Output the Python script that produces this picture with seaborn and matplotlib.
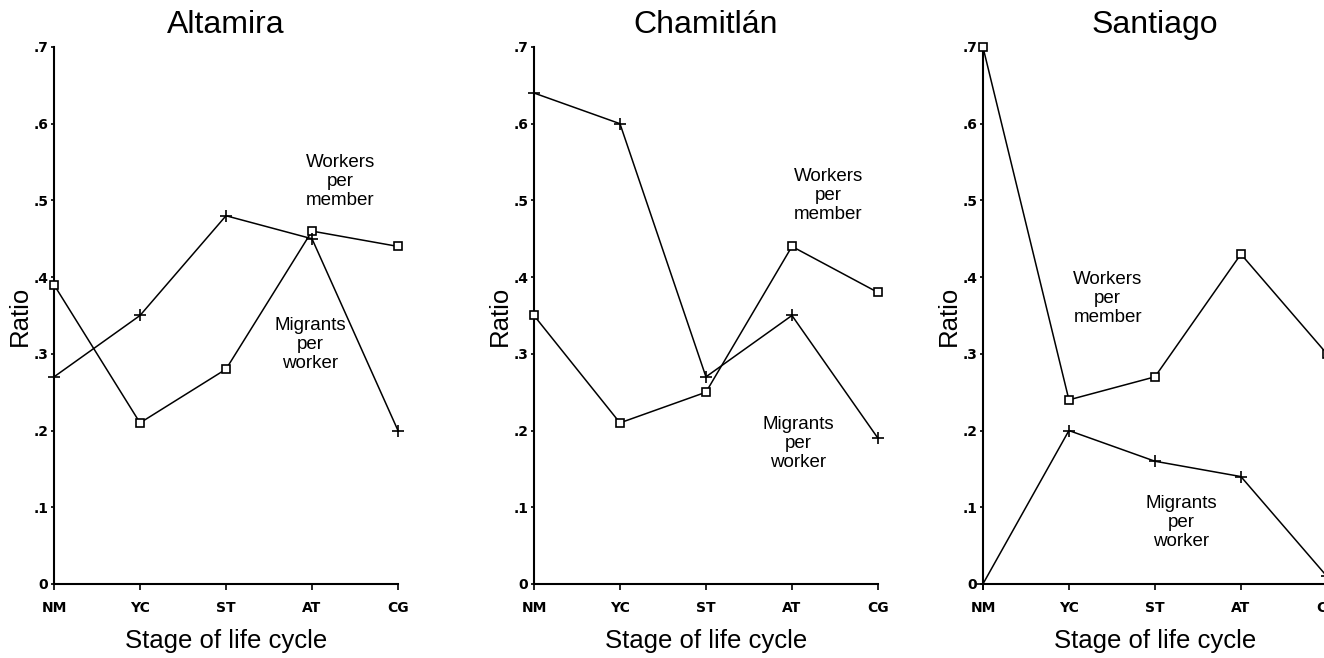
import numpy as np
import pandas as pd
import matplotlib
matplotlib.use("Agg")
import matplotlib.pyplot as plt
import seaborn as sns

# Stages of the household life cycle
stages = ["NM", "YC", "ST", "AT", "CG"]
communities = ["Altamira", "Chamitlán", "Santiago"]

# Workers per household member, by stage
workers_altamira = [0.39, 0.21, 0.28, 0.46, 0.44]
workers_chamitlan = [0.35, 0.21, 0.25, 0.44, 0.38]
workers_santiago = [0.70, 0.24, 0.27, 0.43, 0.30]

# Migrants per worker, by stage
migrants_altamira = [0.27, 0.35, 0.48, 0.45, 0.20]
migrants_chamitlan = [0.64, 0.60, 0.27, 0.35, 0.19]
migrants_santiago = [0.00, 0.20, 0.16, 0.14, 0.01]

y_ticks = [0, 0.1, 0.2, 0.3, 0.4, 0.5, 0.6, 0.7]
y_tick_labels = ["0", ".1", ".2", ".3", ".4", ".5", ".6", ".7"]

frames = []
for name, w, m in zip(communities,
                      [workers_altamira, workers_chamitlan, workers_santiago],
                      [migrants_altamira, migrants_chamitlan, migrants_santiago]):
    for series, vals in (("Workers per member", w), ("Migrants per worker", m)):
        frames.append(pd.DataFrame({"community": name, "series": series,
                                    "stage": np.arange(len(stages)), "ratio": vals}))
df = pd.concat(frames, ignore_index=True)

sns.set_theme(style="white")
plt.rcParams["font.family"] = ["Liberation Sans", "DejaVu Sans"]

fig = plt.figure(figsize=(13.24, 6.58), dpi=100)

# panel placement in figure fractions
lefts = [0.0408, 0.4033, 0.7424]
bottom, width, height = 0.1125, 0.2598, 0.8161

# label placement (x in stage units, y in ratio units)
label_pos = {
    "Altamira": {"Workers per member": (3.33, 0.525), "Migrants per worker": (2.98, 0.312)},
    "Chamitlán": {"Workers per member": (3.42, 0.506), "Migrants per worker": (3.07, 0.183)},
    "Santiago": {"Workers per member": (1.45, 0.372), "Migrants per worker": (2.31, 0.080)},
}

tick_font = dict(family="DejaVu Sans", weight="bold", size=10)

for name, left in zip(communities, lefts):
    ax = fig.add_axes([left, bottom, width, height])
    sub = df[df["community"] == name]
    sns.lineplot(data=sub[sub["series"] == "Workers per member"], x="stage", y="ratio",
                 ax=ax, color="black", linewidth=1.1, marker="s", markersize=5.5,
                 markerfacecolor="white", markeredgecolor="black", markeredgewidth=1.2,
                 clip_on=False, zorder=3)
    sns.lineplot(data=sub[sub["series"] == "Migrants per worker"], x="stage", y="ratio",
                 ax=ax, color="black", linewidth=1.1, marker="+", markersize=8,
                 markeredgecolor="black", markeredgewidth=1.2,
                 clip_on=False, zorder=3)

    ax.set_xlim(0, len(stages) - 1)
    ax.set_ylim(0, 0.7)
    ax.set_xticks(range(len(stages)))
    ax.set_xticklabels(stages, fontdict=tick_font)
    ax.set_yticks(y_ticks)
    ax.set_yticklabels(y_tick_labels, fontdict=tick_font)
    ax.tick_params(axis="x", direction="out", length=4, width=1.2, pad=8,
                   bottom=True, colors="black")
    ax.tick_params(axis="y", direction="out", length=2.5, width=1.2, pad=1.5,
                   left=True, colors="black")

    sns.despine(ax=ax)
    for sp in ("left", "bottom"):
        ax.spines[sp].set_color("black")
        ax.spines[sp].set_linewidth(1.5)

    ax.set_title(name, fontsize=23, pad=10, color="black")
    ax.set_xlabel("Stage of life cycle", fontsize=18.5, labelpad=10, color="black")
    ax.set_ylabel("Ratio", fontsize=18.5, labelpad=1, color="black")

    for series, (tx, ty) in label_pos[name].items():
        words = series.split(" ")
        ax.text(tx, ty, "\n".join(words), ha="center", va="center",
                fontsize=13.5, linespacing=1.15, color="black")

fig.savefig("out.png", dpi=100)
